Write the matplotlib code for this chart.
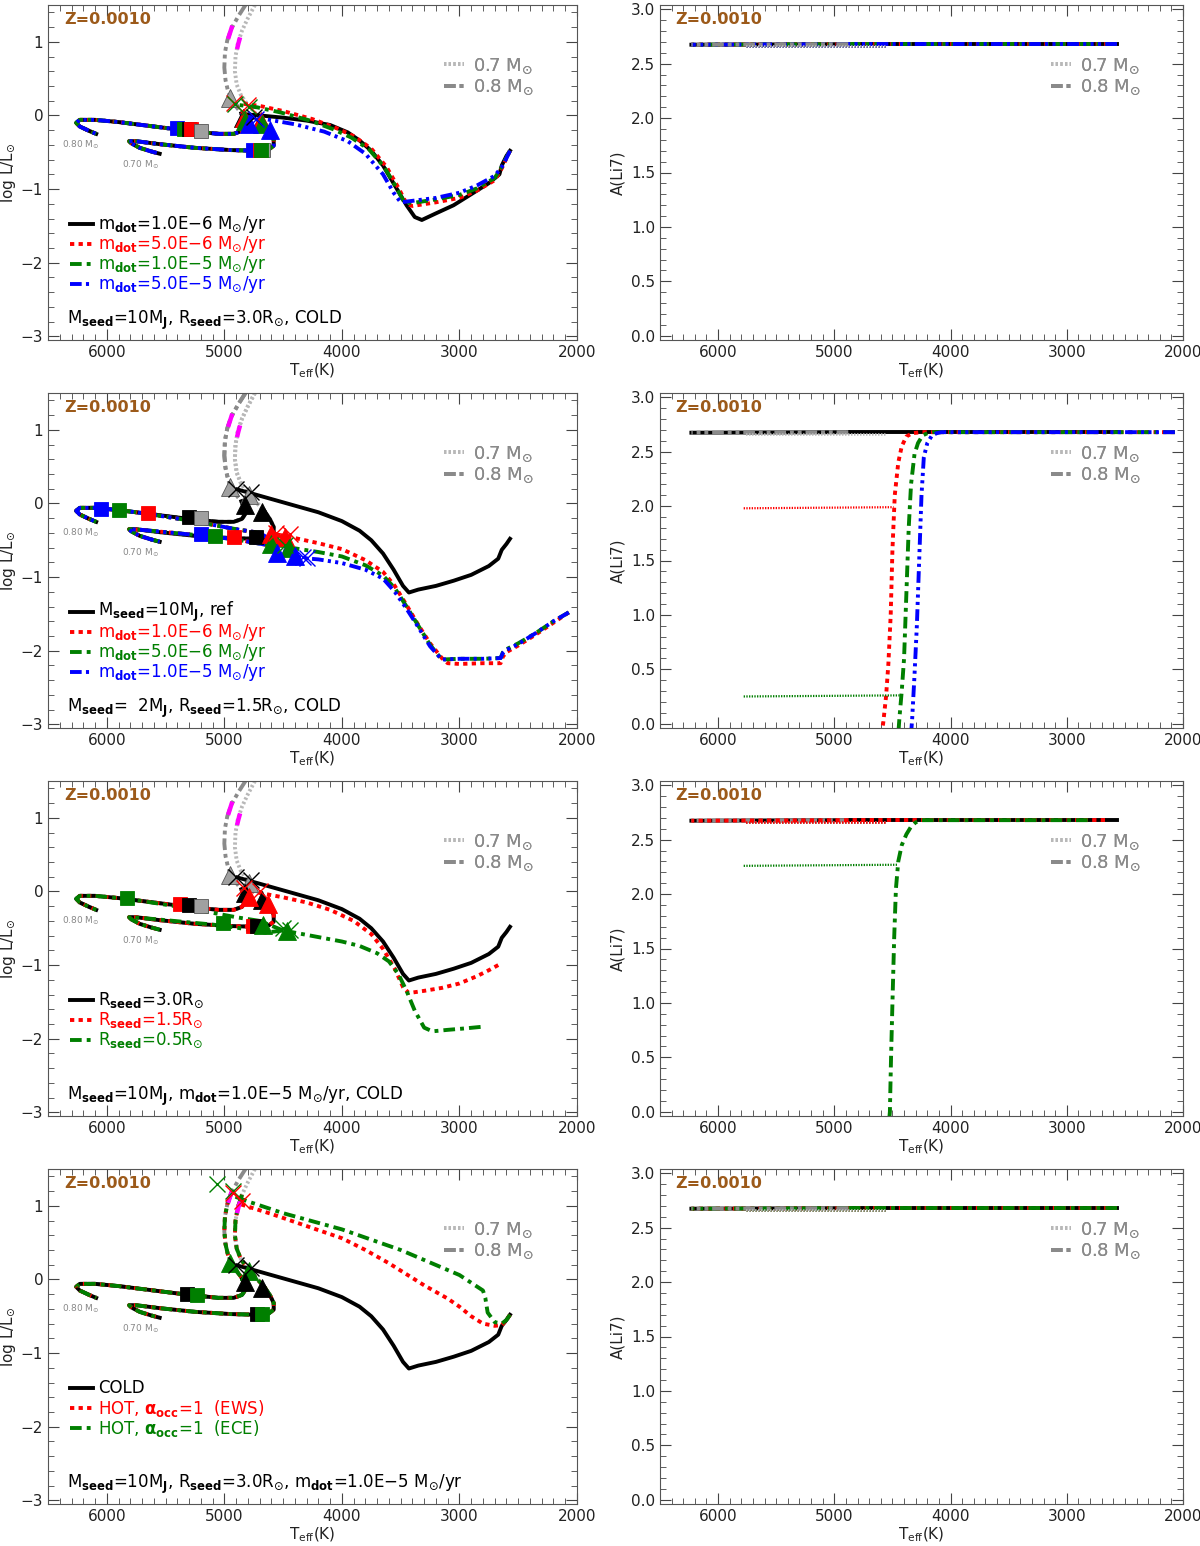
import matplotlib
matplotlib.use('Agg')
import matplotlib.pyplot as plt
import numpy as np
from matplotlib.lines import Line2D
from matplotlib.ticker import MultipleLocator

# %% data: standard (non accreting) tracks, Teff [K] and log L/Lsun
STD08_T = [4820, 4880, 4940, 4975, 4995, 5000, 4990, 4970, 4945, 4900, 4855, 4830, 4825,
           4850, 4920, 5050, 5300, 5600, 5900, 6100, 6230, 6260, 6230, 6150, 6090]
STD08_L = [1.50, 1.35, 1.18, 1.02, 0.85, 0.65, 0.48, 0.34, 0.22, 0.12, 0.03, -0.07, -0.15,
           -0.21, -0.25, -0.25, -0.21, -0.15, -0.09, -0.06, -0.06, -0.10, -0.15, -0.21, -0.25]
STD07_T = [4740, 4800, 4850, 4885, 4905, 4910, 4895, 4860, 4800, 4730, 4660, 4610, 4580,
           4580, 4620, 4720, 4950, 5250, 5550, 5750, 5810, 5790, 5720, 5620, 5550]
STD07_L = [1.50, 1.32, 1.15, 0.98, 0.80, 0.60, 0.42, 0.28, 0.14, 0.02, -0.10, -0.22, -0.32,
           -0.41, -0.46, -0.48, -0.47, -0.44, -0.39, -0.35, -0.35, -0.38, -0.44, -0.49, -0.52]
MAG08_T = [4932, 4950, 4968]
MAG08_L = [1.22, 1.13, 1.04]
MAG07_T = [4866, 4880, 4892]
MAG07_L = [1.06, 0.98, 0.90]

# reference model: Mseed=10MJ, Rseed=3.0Rsun, mdot=1e-5, COLD
REF_T = [2570, 2600, 2640, 2670, 2750, 2900, 3050, 3200, 3350, 3430, 3480, 3560, 3650,
         3750, 3850, 4000, 4200, 4400, 4600, 4800, 4890]
REF_L = [-0.48, -0.55, -0.63, -0.75, -0.85, -0.97, -1.05, -1.12, -1.17, -1.21, -1.12, -0.90,
         -0.68, -0.50, -0.37, -0.24, -0.12, -0.03, 0.06, 0.15, 0.19]

# panel 1: mdot variants
P1_K_T = [2570, 2600, 2640, 2660, 2750, 2900, 3050, 3200, 3320, 3380, 3450, 3550, 3650,
          3750, 3850, 3950, 4100, 4300, 4500, 4700, 4850]
P1_K_L = [-0.48, -0.55, -0.68, -0.80, -0.92, -1.07, -1.22, -1.33, -1.42, -1.38, -1.22, -0.95,
          -0.68, -0.48, -0.34, -0.23, -0.13, -0.07, -0.03, 0.00, 0.02]
P1_R_T = [2570, 2600, 2640, 2700, 2850, 3000, 3200, 3400, 3450, 3520, 3620, 3750, 3900,
          4050, 4250, 4500, 4700, 4850]
P1_R_L = [-0.48, -0.58, -0.72, -0.88, -1.02, -1.12, -1.18, -1.23, -1.20, -0.98, -0.70, -0.45,
          -0.28, -0.17, -0.05, 0.06, 0.13, 0.16]
P1_G_T = [2570, 2600, 2640, 2700, 2850, 3000, 3200, 3400, 3470, 3540, 3640, 3770, 3920,
          4070, 4270, 4520, 4720, 4870]
P1_G_L = [-0.48, -0.57, -0.70, -0.85, -0.99, -1.08, -1.14, -1.19, -1.18, -0.97, -0.70, -0.46,
          -0.30, -0.19, -0.07, 0.04, 0.11, 0.14]
P1_B_T = [2570, 2600, 2640, 2700, 2850, 3000, 3200, 3400, 3500, 3560, 3650, 3800, 3950,
          4150, 4400, 4650, 4800]
P1_B_L = [-0.48, -0.58, -0.70, -0.82, -0.95, -1.05, -1.12, -1.16, -1.18, -1.05, -0.80, -0.52,
          -0.35, -0.22, -0.12, -0.05, -0.02]

# panel 2: Mseed=2MJ, Rseed=1.5Rsun
P2_R_T = [2070, 2200, 2350, 2500, 2600, 2630, 2650, 2800, 3000, 3100, 3150, 3250, 3350,
          3450, 3550, 3650, 3800, 4000, 4200, 4400, 4520]
P2_R_L = [-1.48, -1.62, -1.78, -1.93, -2.02, -2.08, -2.17, -2.17, -2.18, -2.17, -2.10, -1.90,
          -1.65, -1.38, -1.12, -0.93, -0.77, -0.62, -0.54, -0.47, -0.43]
P2_G_T = [2070, 2200, 2350, 2500, 2600, 2630, 2650, 2800, 3000, 3150, 3250, 3350, 3450,
          3550, 3650, 3800, 4000, 4200, 4400, 4480]
P2_G_L = [-1.48, -1.60, -1.76, -1.90, -1.98, -2.02, -2.10, -2.11, -2.11, -2.12, -1.92, -1.66,
          -1.40, -1.15, -0.98, -0.84, -0.72, -0.66, -0.61, -0.58]
P2_B_T = [2070, 2200, 2350, 2500, 2600, 2630, 2650, 2800, 3000, 3150, 3250, 3350, 3450,
          3550, 3650, 3800, 4000, 4200, 4350]
P2_B_L = [-1.48, -1.60, -1.76, -1.91, -1.99, -2.03, -2.10, -2.11, -2.11, -2.12, -1.94, -1.68,
          -1.43, -1.20, -1.02, -0.90, -0.81, -0.76, -0.74]
POST08_T = [4700, 4900, 5100, 5300, 5500, 5700, 5900, 6100, 6230, 6260, 6230, 6150, 6090]
POST08_L = [-0.40, -0.35, -0.29, -0.23, -0.18, -0.13, -0.09, -0.06, -0.06, -0.10, -0.15, -0.21, -0.25]
POST07_T = [4650, 4900, 5100, 5300, 5500, 5700, 5810, 5790, 5720, 5620, 5550]
POST07_L = [-0.56, -0.49, -0.45, -0.42, -0.39, -0.36, -0.35, -0.38, -0.44, -0.49, -0.52]

# panel 3: Rseed variants
P3_R_T = [2670, 2750, 2850, 3000, 3150, 3300, 3430, 3480, 3550, 3650, 3750, 3900, 4100,
          4300, 4500, 4700, 4830]
P3_R_L = [-1.00, -1.07, -1.15, -1.25, -1.31, -1.35, -1.38, -1.30, -1.05, -0.78, -0.58, -0.40,
          -0.25, -0.15, -0.08, -0.02, 0.03]
P3_G_T = [2820, 2950, 3100, 3230, 3300, 3380, 3450, 3520, 3600, 3700, 3850, 4000, 4200,
          4400, 4500]
P3_G_L = [-1.84, -1.86, -1.88, -1.90, -1.85, -1.62, -1.35, -1.12, -0.95, -0.84, -0.74, -0.68,
          -0.62, -0.56, -0.53]

# panel 4: hot accretion
P4_R_T = [2570, 2600, 2640, 2700, 2800, 2900, 3000, 3100, 3200, 3300, 3450, 3600, 3800,
          4000, 4200, 4400, 4600, 4800, 4880]
P4_R_L = [-0.48, -0.55, -0.62, -0.63, -0.60, -0.50, -0.37, -0.26, -0.17, -0.08, 0.07, 0.22,
          0.40, 0.56, 0.67, 0.78, 0.89, 0.99, 1.03]
P4_G_T = [2570, 2600, 2640, 2700, 2760, 2780, 2800, 3000, 3500, 4000, 4500, 4800, 4950]
P4_G_L = [-0.48, -0.55, -0.60, -0.58, -0.45, -0.25, -0.15, 0.06, 0.40, 0.68, 0.90, 1.06, 1.15]

# markers: (model, Teff, logL)
P1_SQ = [('b', 5400, -0.17), ('g', 5340, -0.18), ('k', 5300, -0.19), ('r', 5280, -0.19),
         ('std', 5200, -0.21), ('b', 4760, -0.47), ('std', 4670, -0.47), ('r', 4700, -0.47),
         ('g', 4690, -0.47)]
P1_TRI = [('std', 4950, 0.24), ('k', 4840, -0.04), ('k', 4700, -0.10), ('r', 4830, -0.03),
          ('r', 4690, -0.08), ('g', 4820, -0.08), ('g', 4680, -0.12), ('b', 4790, -0.12),
          ('b', 4610, -0.20)]
P1_X = [('r', 4920, 0.17), ('r', 4800, 0.14), ('g', 4910, 0.15), ('g', 4790, 0.12),
        ('k', 4750, -0.02), ('b', 4730, -0.05)]
P2_SQ = [('b', 6050, -0.07), ('g', 5900, -0.09), ('r', 5650, -0.13), ('k', 5300, -0.18),
         ('std', 5200, -0.20), ('b', 5200, -0.42), ('g', 5080, -0.44), ('r', 4920, -0.46),
         ('k', 4730, -0.46)]
P2_TRI = [('std', 4950, 0.22), ('std', 4790, 0.12), ('k', 4820, -0.02), ('k', 4680, -0.12),
          ('r', 4600, -0.42), ('r', 4480, -0.46), ('g', 4600, -0.55), ('g', 4450, -0.60),
          ('b', 4550, -0.67), ('b', 4400, -0.71)]
P2_X = [('k', 4900, 0.20), ('k', 4770, 0.15), ('r', 4560, -0.40), ('r', 4440, -0.42),
        ('g', 4480, -0.56), ('b', 4330, -0.73), ('b', 4300, -0.74)]
P3_SQ = [('g', 5830, -0.09), ('r', 5380, -0.17), ('k', 5300, -0.19), ('std', 5200, -0.20),
         ('g', 5010, -0.43), ('r', 4760, -0.47), ('k', 4720, -0.47)]
P3_TRI = [('std', 4950, 0.22), ('std', 4790, 0.12), ('k', 4820, -0.02), ('k', 4680, -0.12),
          ('r', 4790, -0.08), ('r', 4630, -0.17), ('g', 4670, -0.46), ('g', 4470, -0.54)]
P3_X = [('k', 4900, 0.20), ('k', 4770, 0.15), ('r', 4830, 0.05), ('r', 4700, 0.00),
        ('g', 4500, -0.50), ('g', 4440, -0.52)]
P4_SQ = [('k', 5320, -0.20), ('g', 5230, -0.21), ('k', 4720, -0.47), ('g', 4680, -0.47)]
P4_TRI = [('g', 4950, 0.22), ('g', 4790, 0.12), ('k', 4820, -0.03), ('k', 4680, -0.12)]
P4_X = [('g', 5060, 1.30), ('g', 4930, 1.20), ('r', 4930, 1.17), ('r', 4850, 1.07),
        ('k', 4900, 0.20), ('k', 4770, 0.15)]

# lithium, A(Li7)
LI_ACC_T = [2570, 4880]
LI_ACC = [2.68, 2.68]
LI_POST08_T = [4880, 6230]
LI_POST08 = [2.68, 2.675]
LI_POST07_T = [4560, 5780]
LI_POST07 = [2.665, 2.665]
LI2_R_T = [2070, 4250, 4330, 4380, 4420, 4450, 4480, 4500, 4515, 4535, 4555, 4580, 4600]
LI2_R = [2.68, 2.68, 2.67, 2.64, 2.55, 2.40, 2.10, 1.60, 1.00, 0.55, 0.25, 0.00, -0.10]
LI2_R07_T = [5780, 4490]
LI2_R07 = [1.98, 1.99]
LI2_G_T = [2070, 4150, 4200, 4240, 4280, 4310, 4340, 4360, 4380, 4400, 4420, 4440, 4450]
LI2_G = [2.68, 2.68, 2.67, 2.65, 2.58, 2.48, 2.20, 1.80, 1.20, 0.60, 0.30, 0.05, -0.10]
LI2_G07_T = [5780, 4420]
LI2_G07 = [0.25, 0.26]
LI2_B_T = [2070, 4080, 4120, 4160, 4200, 4230, 4250, 4270, 4290, 4310, 4330, 4340]
LI2_B = [2.68, 2.68, 2.67, 2.65, 2.58, 2.45, 2.10, 1.50, 0.90, 0.45, 0.05, -0.10]
LI3_G_T = [2820, 4250, 4300, 4340, 4380, 4420, 4450, 4470, 4485, 4500, 4512, 4522, 4530]
LI3_G = [2.68, 2.68, 2.66, 2.62, 2.55, 2.45, 2.30, 2.05, 1.60, 1.00, 0.50, 0.00, -0.10]
LI3_G07_T = [5780, 4450]
LI3_G07 = [2.26, 2.27]
LI3_R_T = [2670, 4880]

# %% styles
COL = {'std': '#a0a0a0', 'k': 'black', 'r': '#ff0000', 'g': '#007f00', 'b': '#0000ff'}
LS = {'k': '-', 'r': (0, (1.1, 1.1)), 'g': (0, (3, 1.3, 1, 1.3)),
      'b': (0, (3, 1.1, 0.8, 1.1, 0.8, 1.1, 0.8, 1.1))}
LS07 = (0, (0.6, 0.6))
LS08 = (0, (3, 1, 1, 1, 1, 1))
BROWN = '#9c5a1a'
LW = 2.8
FS = 12

plt.rcParams['font.family'] = ['DejaVu Sans']
plt.rcParams['mathtext.fontset'] = 'dejavusans'

fig = plt.figure(figsize=(12, 15.46), dpi=100)


def row_box(r, left):
    bottom = 1 - (340 + 388 * r) / 1546
    h = 335 / 1546
    if left:
        return [48 / 1200, bottom, 529 / 1200, h]
    return [660 / 1200, bottom, 523 / 1200, h]


def frame(ax):
    ax.set_xlim(6500, 2000)
    ax.xaxis.set_major_locator(MultipleLocator(1000))
    ax.xaxis.set_minor_locator(MultipleLocator(100))
    ax.tick_params(which='both', direction='in', top=True, right=True,
                   labelsize=11, color='#444444', labelcolor='#222222')
    ax.tick_params(which='major', length=8)
    ax.tick_params(which='minor', length=4)
    for s in ax.spines.values():
        s.set_color('#555555')
    ax.set_xlabel(r'T$_{\rm eff}$(K)', fontsize=11, labelpad=1, color='#222222')
    ax.text(0.03, 0.978, 'Z=0.0010', transform=ax.transAxes, color=BROWN,
            fontsize=11.5, fontweight='semibold', va='top', ha='left')
    mass_legend(ax)


def mass_legend(ax):
    h = [Line2D([], [], color='#b8b8b8', lw=LW, ls=LS07),
         Line2D([], [], color='#8a8a8a', lw=LW, ls=LS08)]
    lg = ax.legend(h, [r'0.7 M$_{\odot}$', r'0.8 M$_{\odot}$'], loc='upper right',
                   bbox_to_anchor=(0.95, 0.895), frameon=False, fontsize=13,
                   handlelength=1.1, handletextpad=0.5, labelspacing=0.1)
    for t in lg.get_texts():
        t.set_color('#8a8a8a')
    ax.add_artist(lg)


def left_axes(r):
    ax = fig.add_axes(row_box(r, True))
    ax.set_ylim(-3.05, 1.5)
    ax.yaxis.set_major_locator(MultipleLocator(1))
    ax.yaxis.set_minor_locator(MultipleLocator(0.2))
    ax.set_ylabel(r'log L/L$_{\odot}$', fontsize=11, labelpad=2, color='#222222')
    frame(ax)
    ax.text(6385, -0.40, r'0.80 M$_{\odot}$', fontsize=6.5, color='#888888', va='center')
    ax.text(5870, -0.67, r'0.70 M$_{\odot}$', fontsize=6.5, color='#888888', va='center')
    return ax


def right_axes(r):
    ax = fig.add_axes(row_box(r, False))
    ax.set_ylim(-0.04, 3.04)
    ax.yaxis.set_major_locator(MultipleLocator(0.5))
    ax.yaxis.set_minor_locator(MultipleLocator(0.1))
    ax.yaxis.set_major_formatter(matplotlib.ticker.FormatStrFormatter('%.1f'))
    ax.set_ylabel('A(Li7)', fontsize=11, labelpad=4, color='#222222')
    frame(ax)
    return ax


def std_tracks(ax):
    ax.plot(STD07_T, STD07_L, color='#b8b8b8', lw=LW, ls=LS07, zorder=2)
    ax.plot(STD08_T, STD08_L, color='#8a8a8a', lw=LW, ls=LS08, zorder=2)


def magenta(ax):
    ax.plot(MAG08_T, MAG08_L, color='#ff00ff', lw=3.2, solid_capstyle='butt', zorder=6)
    ax.plot(MAG07_T, MAG07_L, color='#ff00ff', lw=3.2, solid_capstyle='butt', zorder=6)


def track(ax, t, l, c, z=3):
    ax.plot(t, l, color=COL[c], ls=LS[c], lw=LW, zorder=z)


def post(ax, t0, l0, c, t, l, z=3):
    ax.plot([t0] + list(t), [l0] + list(l), color=COL[c], ls=LS[c], lw=LW, zorder=z)


def markers(ax, sq, tri, xs):
    for m, t, l in sq:
        ax.plot(t, l, 's', ms=10, color=COL[m], mec='#555555' if m == 'std' else COL[m],
                mew=0.6, zorder=8)
    for m, t, l in tri:
        ax.plot(t, l, '^', ms=12.5, color=COL[m], mec='#555555' if m == 'std' else COL[m],
                mew=0.6, zorder=8)
    for m, t, l in xs:
        ax.plot(t, l, 'x', ms=11, color=COL[m], mew=1.0, zorder=9)


def track_legend(ax, keys, labels, y0=0.346, dy=0.06):
    for i, (k, s) in enumerate(zip(keys, labels)):
        y = y0 - i * dy
        ax.plot([0.042, 0.086], [y, y], transform=ax.transAxes, color=COL[k], ls=LS[k],
                lw=LW, clip_on=False)
        ax.text(0.094, y, s, transform=ax.transAxes, color=COL[k], fontsize=FS,
                va='center', ha='left')


def bottom_note(ax, s):
    ax.text(0.036, 0.06, s, transform=ax.transAxes, fontsize=FS, color='black',
            va='center', ha='left')


def li_flat(ax, c, acc_t=LI_ACC_T):
    ax.plot(acc_t, LI_ACC, color=COL[c], ls=LS[c], lw=LW, zorder=3)
    ax.plot(LI_POST08_T, LI_POST08, color=COL[c], ls=LS[c], lw=LW, zorder=3)
    ax.plot(LI_POST07_T, LI_POST07, color=COL[c], ls=LS07, lw=1.8, zorder=3)


def li_std(ax):
    ax.plot(LI_POST08_T, LI_POST08, color='#8a8a8a', ls=LS08, lw=LW, zorder=4)
    ax.plot(LI_POST07_T, LI_POST07, color='#b8b8b8', ls=LS07, lw=1.8, zorder=4)


MSUN = r'M$_{\odot}$'
MD = r'm$_{\mathbf{dot}}$'
MS = r'M$_{\mathbf{seed}}$'
RS = r'R$_{\mathbf{seed}}$'
MJ = r'M$_{\mathbf{J}}$'
RSUN = r'R$_{\odot}$'

# %% row 1
ax = left_axes(0)
std_tracks(ax)
for c, t, l in [('k', P1_K_T, P1_K_L), ('r', P1_R_T, P1_R_L), ('g', P1_G_T, P1_G_L),
                ('b', P1_B_T, P1_B_L)]:
    track(ax, t, l, c)
    ax.plot(STD08_T[10:], STD08_L[10:], color=COL[c], ls=LS[c], lw=LW, zorder=3)
    ax.plot(STD07_T[10:], STD07_L[10:], color=COL[c], ls=LS[c], lw=LW, zorder=3)
magenta(ax)
markers(ax, P1_SQ, P1_TRI, P1_X)
track_legend(ax, ['k', 'r', 'g', 'b'],
             [MD + '=1.0E$-$6 ' + MSUN + '/yr', MD + '=5.0E$-$6 ' + MSUN + '/yr',
              MD + '=1.0E$-$5 ' + MSUN + '/yr', MD + '=5.0E$-$5 ' + MSUN + '/yr'])
bottom_note(ax, MS + '=10' + MJ + ', ' + RS + '=3.0' + RSUN + ', COLD')

ax = right_axes(0)
for c in ['k', 'r', 'g', 'b']:
    li_flat(ax, c)
li_std(ax)

# %% row 2
ax = left_axes(1)
std_tracks(ax)
track(ax, REF_T, REF_L, 'k')
ax.plot(STD08_T[10:], STD08_L[10:], color='black', lw=LW, zorder=2.5)
ax.plot(STD07_T[10:], STD07_L[10:], color='black', lw=LW, zorder=2.5)
std_tracks(ax)
for c, t, l in [('r', P2_R_T, P2_R_L), ('g', P2_G_T, P2_G_L), ('b', P2_B_T, P2_B_L)]:
    track(ax, t, l, c)
    post(ax, t[-1], l[-1], c, POST08_T, POST08_L)
    post(ax, t[-1], l[-1], c, POST07_T, POST07_L)
magenta(ax)
markers(ax, P2_SQ, P2_TRI, P2_X)
track_legend(ax, ['k', 'r', 'g', 'b'],
             [MS + '=10' + MJ + ', ref', MD + '=1.0E$-$6 ' + MSUN + '/yr',
              MD + '=5.0E$-$6 ' + MSUN + '/yr', MD + '=1.0E$-$5 ' + MSUN + '/yr'])
bottom_note(ax, MS + '=  2' + MJ + ', ' + RS + '=1.5' + RSUN + ', COLD')

ax = right_axes(1)
ax.plot(LI_ACC_T, LI_ACC, color='black', lw=LW, zorder=3)
ax.plot(LI_POST08_T, LI_POST08, color='black', lw=LW, zorder=3)
li_std(ax)
for c, t, l in [('r', LI2_R_T, LI2_R), ('g', LI2_G_T, LI2_G), ('b', LI2_B_T, LI2_B)]:
    ax.plot(t, l, color=COL[c], ls=LS[c], lw=LW, zorder=5)
ax.plot(LI2_R07_T, LI2_R07, color=COL['r'], ls=LS07, lw=1.6, zorder=5)
ax.plot(LI2_G07_T, LI2_G07, color=COL['g'], ls=LS07, lw=1.6, zorder=5)

# %% row 3
ax = left_axes(2)
std_tracks(ax)
track(ax, REF_T, REF_L, 'k')
ax.plot(STD08_T[10:], STD08_L[10:], color='black', lw=LW, zorder=2.5)
ax.plot(STD07_T[10:], STD07_L[10:], color='black', lw=LW, zorder=2.5)
track(ax, P3_R_T, P3_R_L, 'r')
ax.plot(STD08_T[10:], STD08_L[10:], color=COL['r'], ls=LS['r'], lw=LW, zorder=3)
ax.plot(STD07_T[10:], STD07_L[10:], color=COL['r'], ls=LS['r'], lw=LW, zorder=3)
track(ax, P3_G_T, P3_G_L, 'g')
post(ax, P3_G_T[-1], P3_G_L[-1], 'g', POST08_T, POST08_L, z=3.5)
post(ax, P3_G_T[-1], P3_G_L[-1], 'g', POST07_T, POST07_L, z=3.5)
magenta(ax)
markers(ax, P3_SQ, P3_TRI, P3_X)
track_legend(ax, ['k', 'r', 'g'],
             [RS + '=3.0' + RSUN, RS + '=1.5' + RSUN, RS + '=0.5' + RSUN])
bottom_note(ax, MS + '=10' + MJ + ', ' + MD + '=1.0E$-$5 ' + MSUN + '/yr, COLD')

ax = right_axes(2)
li_flat(ax, 'k')
li_std(ax)
ax.plot(LI3_R_T, LI_ACC, color=COL['r'], ls=LS['r'], lw=LW, zorder=5)
ax.plot(LI_POST08_T, LI_POST08, color=COL['r'], ls=LS['r'], lw=LW, zorder=5)
ax.plot(LI_POST07_T, LI_POST07, color=COL['r'], ls=LS07, lw=1.8, zorder=5)
ax.plot(LI3_G_T, LI3_G, color=COL['g'], ls=LS['g'], lw=LW, zorder=6)
ax.plot(LI3_G07_T, LI3_G07, color=COL['g'], ls=LS07, lw=1.6, zorder=6)

# %% row 4
ax = left_axes(3)
std_tracks(ax)
track(ax, REF_T, REF_L, 'k')
ax.plot(STD08_T[10:], STD08_L[10:], color='black', lw=LW, zorder=2.5)
ax.plot(STD07_T[10:], STD07_L[10:], color='black', lw=LW, zorder=2.5)
for c, t, l in [('r', P4_R_T, P4_R_L), ('g', P4_G_T, P4_G_L)]:
    track(ax, t, l, c)
    ax.plot(STD08_T[2:], STD08_L[2:], color=COL[c], ls=LS[c], lw=LW, zorder=3)
    ax.plot(STD07_T[2:], STD07_L[2:], color=COL[c], ls=LS[c], lw=LW, zorder=3)
magenta(ax)
markers(ax, P4_SQ, P4_TRI, P4_X)
track_legend(ax, ['k', 'r', 'g'],
             ['COLD', r'HOT, $\mathbf{\alpha_{occ}}$=1  (EWS)',
              r'HOT, $\mathbf{\alpha_{occ}}$=1  (ECE)'])
bottom_note(ax, MS + '=10' + MJ + ', ' + RS + '=3.0' + RSUN + ', ' + MD + '=1.0E$-$5 '
            + MSUN + '/yr')

ax = right_axes(3)
for c in ['k', 'r', 'g']:
    li_flat(ax, c)
li_std(ax)

fig.savefig('out.png', dpi=100)
